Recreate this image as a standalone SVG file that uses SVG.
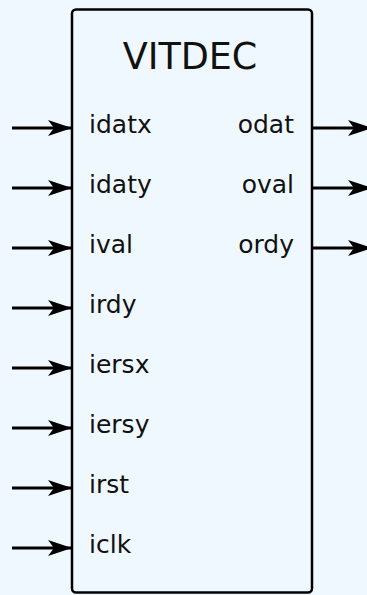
<svg xmlns="http://www.w3.org/2000/svg" width="367" height="595" viewBox="0 0 367 595">
<style>
  .bg { fill: #f0f8ff; }
  .box { fill: #f0f8ff; stroke: #000; stroke-width: 2.5; }
  .title { font-family: "DejaVu Sans", sans-serif; font-size: 36.5px; fill: #111; text-anchor: middle; }
  .lbl { font-family: "DejaVu Sans", sans-serif; font-size: 25px; fill: #111; }
  .out { text-anchor: end; }
  .wire { stroke: #000; stroke-width: 2.8; fill: none; marker-end: url(#arr); }
</style>
<defs>
  <marker id="arr" markerUnits="userSpaceOnUse" viewBox="0 0 24 16" refX="24" refY="8" markerWidth="24" markerHeight="16" orient="auto">
    <path d="M0,0 L24,8 L0,16 L6,8 Z" fill="#000"/>
  </marker>
</defs>
<rect class="bg" x="0" y="0" width="367" height="595"/>
<g id="connectors">
  <path class="wire" d="M12,128 H72"/>
  <path class="wire" d="M12,188 H72"/>
  <path class="wire" d="M12,248 H72"/>
  <path class="wire" d="M12,308 H72"/>
  <path class="wire" d="M12,368 H72"/>
  <path class="wire" d="M12,428 H72"/>
  <path class="wire" d="M12,488 H72"/>
  <path class="wire" d="M12,548 H72"/>
  <path class="wire" d="M312,128 H372"/>
  <path class="wire" d="M312,188 H372"/>
  <path class="wire" d="M312,248 H372"/>
</g>
<g id="VITDEC">
  <rect class="box" x="72" y="9.5" width="240" height="583" rx="4" ry="4"/>
  <text class="title" x="190" y="69">VITDEC</text>
  <text class="lbl" x="89" y="132.5">idatx</text>
  <text class="lbl" x="89" y="192.5">idaty</text>
  <text class="lbl" x="89" y="252.5">ival</text>
  <text class="lbl" x="89" y="312.5">irdy</text>
  <text class="lbl" x="89" y="372.5">iersx</text>
  <text class="lbl" x="89" y="432.5">iersy</text>
  <text class="lbl" x="89" y="492.5">irst</text>
  <text class="lbl" x="89" y="552.5">iclk</text>
  <text class="lbl out" x="294" y="132.5">odat</text>
  <text class="lbl out" x="294" y="192.5">oval</text>
  <text class="lbl out" x="294" y="252.5">ordy</text>
</g>
</svg>
